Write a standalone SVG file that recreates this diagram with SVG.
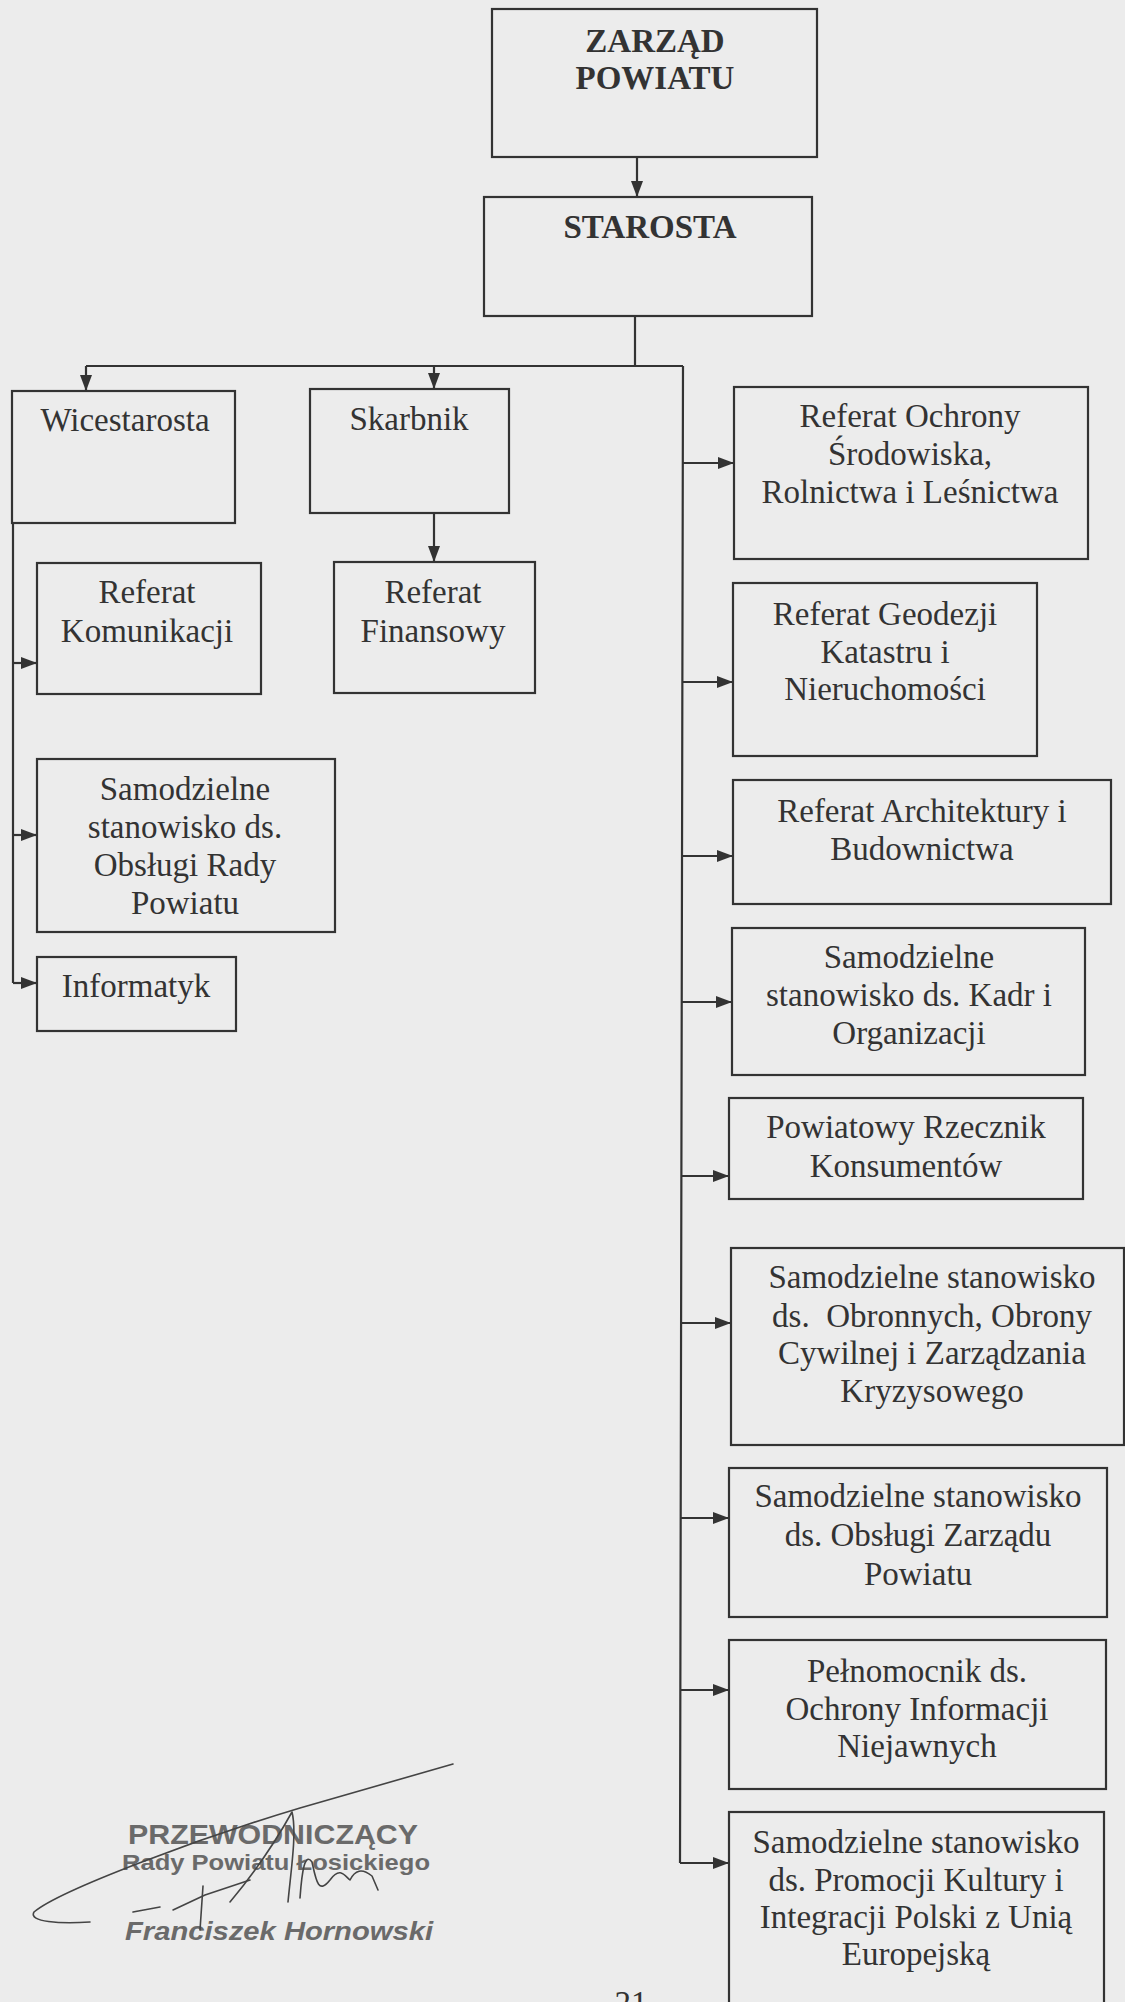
<svg xmlns="http://www.w3.org/2000/svg" width="1125" height="2002" viewBox="0 0 1125 2002">
<defs>
<marker id="ah" viewBox="0 0 16 12" refX="16" refY="6" markerWidth="16" markerHeight="12" markerUnits="userSpaceOnUse" orient="auto">
<path d="M0,0 L16,6 L0,12 Z" fill="#333"/>
</marker>
<style>
.box{fill:none;stroke:#333;stroke-width:2.2}
.t{font-family:"Liberation Serif","Times New Roman",serif;font-size:33px;fill:#333;text-anchor:middle}
.b{font-family:"Liberation Serif","Times New Roman",serif;font-size:33px;font-weight:bold;fill:#333;text-anchor:middle}
.c{fill:none;stroke:#333;stroke-width:2.2}
.a{fill:none;stroke:#333;stroke-width:2.2;marker-end:url(#ah)}
.st{font-family:"Liberation Sans",Arial,sans-serif;font-weight:bold;fill:#6a6a6a}
.sig{fill:none;stroke:#444;stroke-width:1.6;stroke-linecap:round;stroke-linejoin:round}
</style>
</defs>
<rect x="0" y="0" width="1125" height="2002" fill="#ececec"/>

<g id="connectors">
<path class="a" d="M637,157 L637,197"/>
<path class="c" d="M635,316 L635,366 M86,366 L683,366 M683,366 L680,1863"/>
<path class="a" d="M86,366 L86,391"/>
<path class="a" d="M434,366 L434,389"/>
<path class="a" d="M434,513 L434,562"/>
<path class="c" d="M13,523 L13,983"/>
<path class="a" d="M13,663 L37,663"/>
<path class="a" d="M13,835 L37,835"/>
<path class="a" d="M13,983 L37,983"/>
<path class="a" d="M683,463 L734,463"/>
<path class="a" d="M683,682 L733,682"/>
<path class="a" d="M682,856 L733,856"/>
<path class="a" d="M682,1002 L732,1002"/>
<path class="a" d="M682,1176 L729,1176"/>
<path class="a" d="M681,1323 L731,1323"/>
<path class="a" d="M681,1518 L729,1518"/>
<path class="a" d="M680,1690 L729,1690"/>
<path class="a" d="M680,1863 L729,1863"/>
</g>

<g id="zarzad">
<rect class="box" x="492" y="9" width="325" height="148"/>
<text class="b" x="655" y="52">ZARZĄD</text>
<text class="b" x="655" y="89">POWIATU</text>
</g>
<g id="starosta">
<rect class="box" x="484" y="197" width="328" height="119"/>
<text class="b" x="650" y="238">STAROSTA</text>
</g>
<g id="wicestarosta">
<rect class="box" x="12" y="391" width="223" height="132"/>
<text class="t" x="125" y="431">Wicestarosta</text>
</g>
<g id="skarbnik">
<rect class="box" x="310" y="389" width="199" height="124"/>
<text class="t" x="409" y="430">Skarbnik</text>
</g>
<g id="ref-komunikacji">
<rect class="box" x="37" y="563" width="224" height="131"/>
<text class="t" x="147" y="603">Referat</text>
<text class="t" x="147" y="642">Komunikacji</text>
</g>
<g id="ref-finansowy">
<rect class="box" x="334" y="562" width="201" height="131"/>
<text class="t" x="433" y="603">Referat</text>
<text class="t" x="433" y="642">Finansowy</text>
</g>
<g id="rada">
<rect class="box" x="37" y="759" width="298" height="173"/>
<text class="t" x="185" y="800">Samodzielne</text>
<text class="t" x="185" y="838">stanowisko ds.</text>
<text class="t" x="185" y="876">Obsługi Rady</text>
<text class="t" x="185" y="914">Powiatu</text>
</g>
<g id="informatyk">
<rect class="box" x="37" y="957" width="199" height="74"/>
<text class="t" x="136" y="997">Informatyk</text>
</g>

<g id="ref-ochrony">
<rect class="box" x="734" y="387" width="354" height="172"/>
<text class="t" x="910" y="427">Referat Ochrony</text>
<text class="t" x="910" y="465">Środowiska,</text>
<text class="t" x="910" y="503">Rolnictwa i Leśnictwa</text>
</g>
<g id="ref-geodezji">
<rect class="box" x="733" y="583" width="304" height="173"/>
<text class="t" x="885" y="625">Referat Geodezji</text>
<text class="t" x="885" y="663">Katastru i</text>
<text class="t" x="885" y="700">Nieruchomości</text>
</g>
<g id="ref-architektury">
<rect class="box" x="733" y="780" width="378" height="124"/>
<text class="t" x="922" y="822">Referat Architektury i</text>
<text class="t" x="922" y="860">Budownictwa</text>
</g>
<g id="kadr">
<rect class="box" x="732" y="928" width="353" height="147"/>
<text class="t" x="909" y="968">Samodzielne</text>
<text class="t" x="909" y="1006">stanowisko ds. Kadr i</text>
<text class="t" x="909" y="1044">Organizacji</text>
</g>
<g id="rzecznik">
<rect class="box" x="729" y="1098" width="354" height="101"/>
<text class="t" x="906" y="1138">Powiatowy Rzecznik</text>
<text class="t" x="906" y="1177">Konsumentów</text>
</g>
<g id="obronnych">
<rect class="box" x="731" y="1248" width="393" height="197"/>
<text class="t" x="932" y="1288">Samodzielne stanowisko</text>
<text class="t" x="932" y="1327" style="white-space:pre">ds.  Obronnych, Obrony</text>
<text class="t" x="932" y="1364">Cywilnej i Zarządzania</text>
<text class="t" x="932" y="1402">Kryzysowego</text>
</g>
<g id="zarzadu">
<rect class="box" x="729" y="1468" width="378" height="149"/>
<text class="t" x="918" y="1507">Samodzielne stanowisko</text>
<text class="t" x="918" y="1546">ds. Obsługi Zarządu</text>
<text class="t" x="918" y="1585">Powiatu</text>
</g>
<g id="pelnomocnik">
<rect class="box" x="729" y="1640" width="377" height="149"/>
<text class="t" x="917" y="1682">Pełnomocnik ds.</text>
<text class="t" x="917" y="1720">Ochrony Informacji</text>
<text class="t" x="917" y="1757">Niejawnych</text>
</g>
<g id="promocji">
<rect class="box" x="729" y="1812" width="375" height="200"/>
<text class="t" x="916" y="1853">Samodzielne stanowisko</text>
<text class="t" x="916" y="1891">ds. Promocji Kultury i</text>
<text class="t" x="916" y="1928">Integracji Polski z Unią</text>
<text class="t" x="916" y="1965">Europejską</text>
</g>

<g id="stamp">
<text class="st" x="128" y="1844" font-size="28" textLength="290" lengthAdjust="spacingAndGlyphs">PRZEWODNICZĄCY</text>
<text class="st" x="122" y="1870" font-size="22" textLength="308" lengthAdjust="spacingAndGlyphs">Rady Powiatu Łosickiego</text>
<text class="st" x="125" y="1940" font-size="26" font-style="italic" textLength="308" lengthAdjust="spacingAndGlyphs">Franciszek Hornowski</text>
<path class="sig" d="M453,1764 L300,1808 C200,1838 60,1890 34,1912 C28,1922 60,1924 90,1922"/>
<path class="sig" d="M133,1912 L160,1907 M173,1910 L205,1895 L250,1880"/>
<path class="sig" d="M200,1930 L203,1886 M230,1902 C250,1878 272,1848 292,1812 C297,1832 291,1870 288,1902 M300,1898 C302,1870 305,1852 312,1862 C316,1880 318,1895 330,1880 C340,1866 345,1876 350,1880 C355,1870 362,1868 372,1876 L378,1890"/>
</g>
<text class="t" x="631" y="2014">21</text>
</svg>
